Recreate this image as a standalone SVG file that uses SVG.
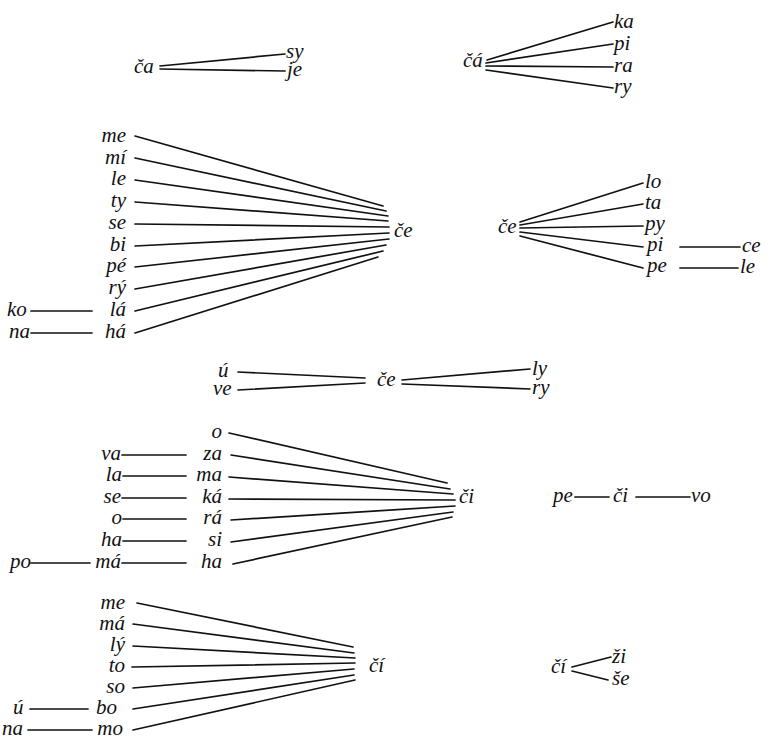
<svg xmlns="http://www.w3.org/2000/svg" width="778" height="741" viewBox="0 0 778 741">
<style>
text{font-family:"Liberation Serif","Times New Roman",serif;font-style:italic;font-size:21px;fill:#111}
.e{text-anchor:end}
line{stroke:#111;stroke-width:1.7;stroke-linecap:round}
</style>
<rect width="778" height="741" fill="#fff"/>
<g id="connectors">
<line x1="160" y1="66" x2="285" y2="54"/>
<line x1="160" y1="69" x2="285" y2="71"/>
<line x1="487" y1="60" x2="613" y2="22"/>
<line x1="486" y1="63" x2="613" y2="44"/>
<line x1="486" y1="66" x2="613" y2="67"/>
<line x1="486" y1="70" x2="613" y2="88"/>
<line x1="135" y1="136" x2="383" y2="206"/>
<line x1="135" y1="158" x2="386" y2="211"/>
<line x1="135" y1="180" x2="388" y2="216"/>
<line x1="135" y1="202" x2="388" y2="221"/>
<line x1="135" y1="224" x2="389" y2="227"/>
<line x1="135" y1="246" x2="389" y2="233"/>
<line x1="135" y1="267" x2="389" y2="239"/>
<line x1="135" y1="289" x2="386" y2="245"/>
<line x1="135" y1="311" x2="383" y2="251"/>
<line x1="135" y1="333" x2="378" y2="257"/>
<line x1="31" y1="311" x2="92" y2="311"/>
<line x1="31" y1="333" x2="92" y2="333"/>
<line x1="520" y1="222" x2="643" y2="183"/>
<line x1="520" y1="225" x2="643" y2="204"/>
<line x1="520" y1="228" x2="643" y2="226"/>
<line x1="520" y1="232" x2="643" y2="247"/>
<line x1="520" y1="236" x2="643" y2="268"/>
<line x1="680" y1="247" x2="740" y2="247"/>
<line x1="680" y1="268" x2="738" y2="268"/>
<line x1="238" y1="372" x2="365" y2="378"/>
<line x1="238" y1="390" x2="365" y2="383"/>
<line x1="402" y1="380" x2="530" y2="369"/>
<line x1="402" y1="384" x2="530" y2="389"/>
<line x1="229" y1="433" x2="447" y2="483"/>
<line x1="231" y1="455" x2="450" y2="489"/>
<line x1="229" y1="477" x2="453" y2="494"/>
<line x1="229" y1="499" x2="455" y2="500"/>
<line x1="231" y1="520" x2="455" y2="506"/>
<line x1="231" y1="542" x2="453" y2="512"/>
<line x1="233" y1="564" x2="452" y2="517"/>
<line x1="122" y1="455" x2="186" y2="455"/>
<line x1="123" y1="476" x2="186" y2="476"/>
<line x1="122" y1="498" x2="186" y2="498"/>
<line x1="123" y1="519" x2="186" y2="519"/>
<line x1="123" y1="541" x2="186" y2="541"/>
<line x1="122" y1="563" x2="186" y2="563"/>
<line x1="31" y1="563" x2="90" y2="563"/>
<line x1="575" y1="497" x2="609" y2="497"/>
<line x1="636" y1="497" x2="690" y2="497"/>
<line x1="137" y1="603" x2="353" y2="647"/>
<line x1="133" y1="624" x2="354" y2="653"/>
<line x1="133" y1="646" x2="355" y2="658"/>
<line x1="132" y1="667" x2="355" y2="663"/>
<line x1="133" y1="688" x2="354" y2="669"/>
<line x1="133" y1="709" x2="354" y2="675"/>
<line x1="133" y1="730" x2="355" y2="680"/>
<line x1="30" y1="709" x2="88" y2="709"/>
<line x1="28" y1="730" x2="92" y2="730"/>
<line x1="572" y1="667" x2="611" y2="657"/>
<line x1="572" y1="671" x2="608" y2="680"/>
</g>
<g id="n-ca"><text x="134" y="73">ča</text></g>
<g id="n-sy"><text x="286" y="58">sy</text></g>
<g id="n-je"><text x="287" y="76">je</text></g>
<g id="n-caa"><text x="463" y="67">čá</text></g>
<g id="n-ka"><text x="614" y="28">ka</text></g>
<g id="n-pi1"><text x="614" y="50">pi</text></g>
<g id="n-ra"><text x="614" y="72">ra</text></g>
<g id="n-ry1"><text x="614" y="93">ry</text></g>
<g id="n-me1"><text class="e" x="126" y="142">me</text></g>
<g id="n-mi"><text class="e" x="126" y="164">mí</text></g>
<g id="n-le1"><text class="e" x="126" y="185">le</text></g>
<g id="n-ty"><text class="e" x="126" y="207">ty</text></g>
<g id="n-se1"><text class="e" x="126" y="229">se</text></g>
<g id="n-bi"><text class="e" x="126" y="251">bi</text></g>
<g id="n-pe1"><text class="e" x="126" y="272">pé</text></g>
<g id="n-ry2"><text class="e" x="126" y="294">rý</text></g>
<g id="n-la1"><text class="e" x="126" y="316">lá</text></g>
<g id="n-ha1"><text class="e" x="126" y="338">há</text></g>
<g id="n-ko"><text x="7" y="316">ko</text></g>
<g id="n-na1"><text x="9" y="338">na</text></g>
<g id="n-ce1"><text x="394" y="237">če</text></g>
<g id="n-ce2"><text x="498" y="233">če</text></g>
<g id="n-lo"><text x="645" y="188">lo</text></g>
<g id="n-ta"><text x="645" y="209">ta</text></g>
<g id="n-py"><text x="645" y="230">py</text></g>
<g id="n-pi2"><text x="647" y="251">pi</text></g>
<g id="n-pe2"><text x="647" y="272">pe</text></g>
<g id="n-ce3"><text x="742" y="252">ce</text></g>
<g id="n-le2"><text x="740" y="273">le</text></g>
<g id="n-u1"><text x="218" y="377">ú</text></g>
<g id="n-ve"><text x="213" y="395">ve</text></g>
<g id="n-ce4"><text x="377" y="386">če</text></g>
<g id="n-ly"><text x="532" y="375">ly</text></g>
<g id="n-ry3"><text x="532" y="394">ry</text></g>
<g id="n-o1"><text class="e" x="222" y="438">o</text></g>
<g id="n-za"><text class="e" x="222" y="460">za</text></g>
<g id="n-ma"><text class="e" x="222" y="481">ma</text></g>
<g id="n-ka2"><text class="e" x="222" y="503">ká</text></g>
<g id="n-ra2"><text class="e" x="222" y="524">rá</text></g>
<g id="n-si"><text class="e" x="222" y="546">si</text></g>
<g id="n-ha2"><text class="e" x="222" y="568">ha</text></g>
<g id="n-va"><text class="e" x="121" y="460">va</text></g>
<g id="n-la2"><text class="e" x="122" y="481">la</text></g>
<g id="n-se2"><text class="e" x="121" y="503">se</text></g>
<g id="n-o2"><text class="e" x="122" y="524">o</text></g>
<g id="n-ha3"><text class="e" x="122" y="546">ha</text></g>
<g id="n-ma2"><text class="e" x="121" y="568">má</text></g>
<g id="n-po"><text x="10" y="568">po</text></g>
<g id="n-ci1"><text x="459" y="503">či</text></g>
<g id="n-pe3"><text x="553" y="502">pe</text></g>
<g id="n-ci2"><text x="613" y="502">či</text></g>
<g id="n-vo"><text x="691" y="502">vo</text></g>
<g id="n-me2"><text class="e" x="125" y="609">me</text></g>
<g id="n-ma3"><text class="e" x="125" y="630">má</text></g>
<g id="n-ly2"><text class="e" x="125" y="651">lý</text></g>
<g id="n-to"><text class="e" x="125" y="672">to</text></g>
<g id="n-so"><text class="e" x="125" y="693">so</text></g>
<g id="n-bo"><text class="e" x="117" y="714">bo</text></g>
<g id="n-mo"><text class="e" x="123" y="735">mo</text></g>
<g id="n-u2"><text x="13" y="714">ú</text></g>
<g id="n-na2"><text x="2" y="735">na</text></g>
<g id="n-cii1"><text x="369" y="672">čí</text></g>
<g id="n-cii2"><text x="551" y="673">čí</text></g>
<g id="n-zi"><text x="612" y="663">ži</text></g>
<g id="n-se3"><text x="612" y="685">še</text></g>
</svg>
